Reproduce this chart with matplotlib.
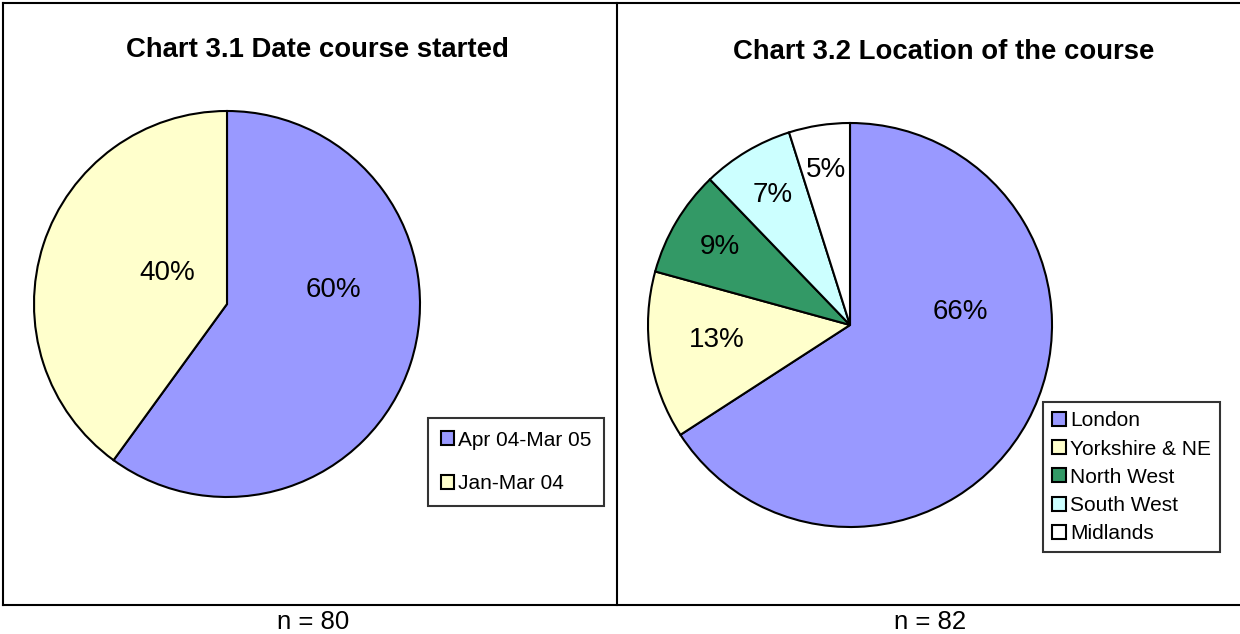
import matplotlib.pyplot as plt
from matplotlib.lines import Line2D
from matplotlib.patches import Patch

plt.rcParams['font.family'] = ['Liberation Sans', 'DejaVu Sans']

# chart 3.1 - date course started (n = 80)
date_labels = ['Apr 04-Mar 05', 'Jan-Mar 04']
date_counts = [48, 32]
date_colors = ['#9999FF', '#FFFFCC']

# chart 3.2 - location of the course (n = 82)
loc_labels = ['London', 'Yorkshire & NE', 'North West', 'South West', 'Midlands']
loc_counts = [54, 11, 7, 6, 4]
loc_colors = ['#9999FF', '#FFFFCC', '#339966', '#CCFFFF', '#FFFFFF']

W, H = 1240, 634
fig = plt.figure(figsize=(W / 100, H / 100), dpi=100)


def px_axes(cx, cy, r):
    # square axes around a pie centre given in pixels (from top-left)
    return fig.add_axes([(cx - r) / W, (H - cy - r) / H, 2 * r / W, 2 * r / H])


def draw_pie(ax, counts, colors, label_pos):
    wedges, texts, autotexts = ax.pie(
        counts, colors=colors, startangle=90, counterclock=False,
        autopct='%1.0f%%', pctdistance=0.6,
        wedgeprops=dict(edgecolor='black', linewidth=1.5),
        textprops=dict(fontsize=20, color='black'))
    # excel-like label placement
    for t, pos in zip(autotexts, label_pos):
        t.set_position(pos)
    ax.set_xlim(-1, 1)
    ax.set_ylim(-1, 1)
    ax.set_aspect('equal')
    ax.axis('off')
    return wedges


def legend_box(labels, colors, x, y, spacing, pad):
    handles = [Patch(facecolor=c, edgecolor='black', linewidth=1.5) for c in colors]
    leg = fig.legend(handles, labels, loc='upper left',
                     bbox_to_anchor=(x / W, 1 - y / H),
                     fontsize=15, frameon=True, fancybox=False,
                     edgecolor='black', handlelength=0.65, handleheight=0.65,
                     handletextpad=0.2, labelspacing=spacing,
                     borderpad=pad, borderaxespad=0)
    leg.get_frame().set_linewidth(1.5)


ax1 = px_axes(227, 304, 193)
draw_pie(ax1, date_counts, date_colors, [(0.55, 0.07), (-0.31, 0.16)])
legend_box(date_labels, date_colors, 428, 418, 1.18, 0.6)

ax2 = px_axes(850, 325, 202)
draw_pie(ax2, loc_counts, loc_colors,
         [(0.545, 0.065), (-0.66, -0.075), (-0.645, 0.385), (-0.385, 0.645), (-0.12, 0.765)])
legend_box(loc_labels, loc_colors, 1043, 402, 0.44, 0.45)

# titles and n labels
fig.text(317 / W, 1 - 50 / H, 'Chart 3.1 Date course started', ha='center', va='center',
         fontsize=19.8, fontweight='bold')
fig.text(944 / W, 1 - 52 / H, 'Chart 3.2 Location of the course', ha='center', va='center',
         fontsize=19.8, fontweight='bold')
fig.text(313 / W, 1 - 622 / H, 'n = 80', ha='center', va='center', fontsize=18.5)
fig.text(930 / W, 1 - 622 / H, 'n = 82', ha='center', va='center', fontsize=18.5)

# panel borders
for xs, ys in [([3, 1240], [3, 3]), ([3, 1240], [604.5, 604.5]),
               ([3, 3], [3, 604.5]), ([617, 617], [3, 604.5])]:
    fig.add_artist(Line2D([x / W for x in xs], [1 - y / H for y in ys],
                          color='black', linewidth=1.5, transform=fig.transFigure))

fig.savefig('out.png', dpi=100, facecolor='white')
